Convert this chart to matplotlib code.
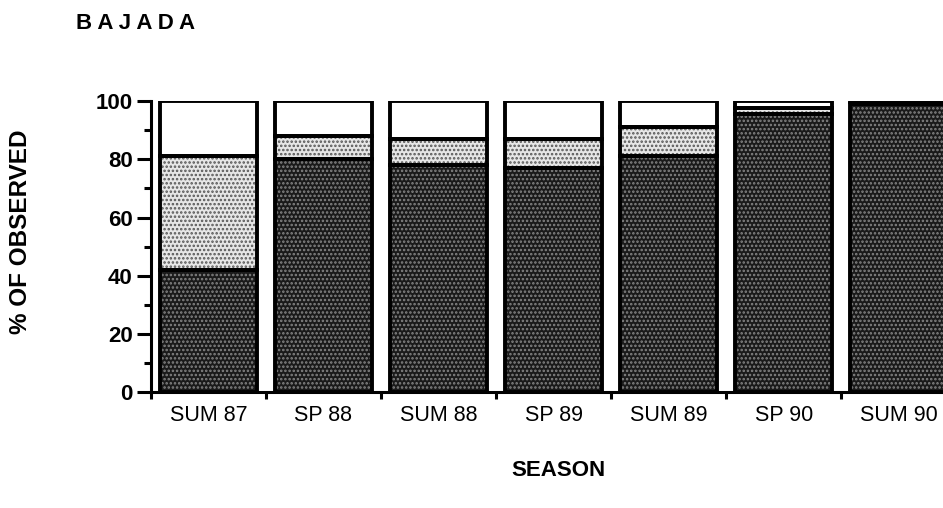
import numpy as np
import matplotlib.pyplot as plt
from matplotlib.ticker import MultipleLocator

plt.rcParams['font.family'] = ['Liberation Sans', 'DejaVu Sans']
plt.rcParams['hatch.linewidth'] = 1.2

seasons = ["SUM 87", "SP 88", "SUM 88", "SP 89", "SUM 89", "SP 90", "SUM 90"]
dark = [42, 80, 78, 77, 81, 95.5, 99]
light = [39, 8, 9, 10, 10, 2, 0]
white = [19, 12, 13, 13, 9, 2.5, 1]

x = np.arange(len(seasons))
w = 0.84
dark = np.array(dark)
light = np.array(light)
white = np.array(white)

fig = plt.figure(figsize=(9.43, 5.08), dpi=100)
ax = fig.add_axes([0.160, 0.228, 0.854, 0.573])

# dotted fills: dark base with pale dots, light base with dark dots
ax.bar(x, dark, w, color='#1a1a1a', hatch='....', edgecolor='#858585', linewidth=0)
ax.bar(x, light, w, bottom=dark, color='#e6e6e6', hatch='....', edgecolor='#555555', linewidth=0)
ax.bar(x, white, w, bottom=dark + light, color='white', linewidth=0)

# black outlines of every segment
for vals, base in [(dark, 0), (light, dark), (white, dark + light)]:
    ax.bar(x, vals, w, bottom=base, fill=False, edgecolor='black', linewidth=2.8)

ax.set_xlim(-0.5, 6.5)
ax.set_ylim(0, 100)
ax.spines['top'].set_visible(False)
ax.spines['right'].set_visible(False)
ax.spines['left'].set_linewidth(2.2)
ax.spines['bottom'].set_linewidth(2.2)

ax.yaxis.set_major_locator(MultipleLocator(20))
ax.yaxis.set_minor_locator(MultipleLocator(10))
ax.tick_params(axis='y', which='major', length=10, width=2.2, labelsize=16, pad=3)
ax.tick_params(axis='y', which='minor', length=5, width=2.2)
for t in ax.get_yticklabels():
    t.set_fontweight('bold')

ax.set_xticks(x - 0.5, minor=True)
ax.set_xticks(x)
ax.set_xticklabels(seasons, fontsize=15.5)
ax.tick_params(axis='x', which='major', length=0, pad=9)
ax.tick_params(axis='x', which='minor', length=5, width=2.2)

ax.set_ylabel("% OF OBSERVED", fontsize=17.5, fontweight='bold', labelpad=42)
ax.yaxis.set_label_coords(-0.147, 0.55)
fig.text(0.592, 0.063, "SEASON", fontsize=16, fontweight='bold', ha='center')
fig.text(0.081, 0.942, "B A J A D A", fontsize=16, fontweight='bold', ha='left')

fig.savefig("out.png", dpi=100)
